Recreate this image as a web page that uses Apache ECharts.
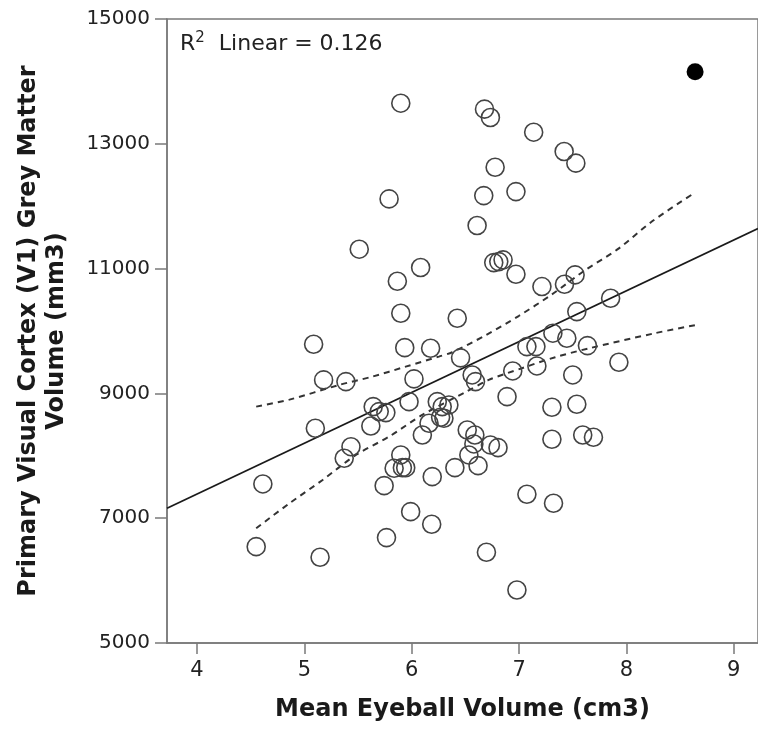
<!DOCTYPE html>
<html>
<head>
<meta charset="utf-8">
<script src="https://cdn.jsdelivr.net/npm/echarts@6/dist/echarts.min.js"></script>
<style>
  html, body { margin: 0; padding: 0; background: #fff; }
  #chart { width: 758px; height: 729px; }
</style>
</head>
<body>
<div id="chart"></div>
<script>
// hollow points: eyeball volume (cm3) vs V1 grey matter (mm3)
const eyeX = [5.898, 5.789, 5.511, 6.083, 5.866, 5.898, 6.424, 5.086, 5.935, 6.176,
  6.678, 6.733, 7.136, 7.420, 7.529, 6.777, 6.671, 6.971, 6.609, 6.764,
  6.811, 6.851, 6.971, 7.213, 7.423, 7.522, 7.853, 7.538, 7.315, 7.073,
  7.157, 7.445, 7.637, 6.455, 7.930, 5.179, 5.387, 6.021, 5.975, 5.641,
  5.697, 5.759, 6.238, 6.284, 6.346, 6.269, 6.161, 6.099, 5.619, 5.102,
  5.434, 5.371, 5.898, 5.836, 5.913, 5.944, 5.743, 6.191, 6.402, 4.613,
  5.990, 6.186, 5.765, 4.551, 5.146, 6.563, 6.594, 6.941, 7.166, 7.500,
  6.888, 7.306, 7.538, 6.300, 6.517, 6.588, 6.579, 6.733, 6.804, 6.532,
  6.618, 7.306, 7.593, 7.693, 7.073, 7.321, 6.696, 6.980];
const v1Y = [13651, 12117, 11311, 11017, 10798, 10285, 10205, 9788, 9733, 9724,
  13555, 13421, 13186, 12877, 12690, 12624, 12170, 12234, 11690, 11096,
  11112, 11140, 10910, 10712, 10750, 10899, 10525, 10311, 9965, 9750,
  9750, 9884, 9766, 9570, 9500, 9216, 9189, 9232, 8868, 8788,
  8708, 8692, 8868, 8788, 8815, 8618, 8522, 8334, 8478, 8441,
  8146, 7961, 8014, 7800, 7810, 7810, 7522, 7666, 7810, 7549,
  7105, 6903, 6689, 6544, 6374, 9296, 9189, 9360, 9440, 9296,
  8948, 8778, 8826, 8602, 8414, 8334, 8190, 8174, 8131, 8014,
  7842, 8265, 8334, 8297, 7384, 7239, 6454, 5850];

// highlighted case (filled)
const outX = [8.64];
const outY = [14153];

// linear fit, read at the plot edges
const fitX = [3.72, 9.226];
const fitY = [7159, 11641];

// 95% CI of the mean (dashed)
const ciUpX = [4.551, 4.861, 5.325, 5.634, 5.944, 6.253, 6.377, 6.687, 6.996, 7.305, 7.616, 7.926, 8.234, 8.605];
const ciUpY = [8788, 8900, 9136, 9269, 9429, 9590, 9660, 9930, 10240, 10585, 10975, 11320, 11750, 12181];
const ciLoX = [4.551, 4.861, 5.170, 5.480, 5.789, 6.098, 6.501, 6.718, 7.027, 7.337, 7.646, 8.266, 8.652];
const ciLoY = [6838, 7239, 7613, 8014, 8307, 8655, 9020, 9216, 9404, 9580, 9720, 9965, 10097];

const xTicks = [4, 5, 6, 7, 8, 9];

const zip = (xs, ys) => xs.map((x, i) => [x, ys[i]]);

const chart = echarts.init(document.getElementById('chart'));
const font = 'DejaVu Sans, sans-serif';
const axisGrey = '#7a7a7a';

const option = {
  animation: false,
  grid: {
    left: 167,
    top: 19,
    width: 593,
    height: 624,
    show: true,
    borderColor: axisGrey,
    borderWidth: 1.5
  },
  graphic: [{
    type: 'text',
    left: 180,
    top: 31,
    style: {
      text: '{a|R}{s|2}{a|  Linear = 0.126}',
      rich: {
        a: { fontSize: 22, fontFamily: font, fill: '#222', lineHeight: 26 },
        s: { fontSize: 15, fontFamily: font, fill: '#222', verticalAlign: 'top', lineHeight: 26 }
      }
    }
  }],
  xAxis: {
    type: 'value',
    min: 3.72,
    max: 9.226,
    name: 'Mean Eyeball Volume (cm3)',
    nameLocation: 'middle',
    nameGap: 55,
    nameTextStyle: { fontSize: 24, fontWeight: 'bold', fontFamily: font, color: '#1a1a1a' },
    axisLine: { lineStyle: { color: axisGrey, width: 1.5 } },
    axisTick: { customValues: xTicks, length: 11, lineStyle: { color: axisGrey, width: 1.5 } },
    axisLabel: { customValues: xTicks, fontSize: 21, fontFamily: font, color: '#222', margin: 17 },
    splitLine: { show: false }
  },
  yAxis: {
    type: 'value',
    min: 5000,
    max: 15000,
    interval: 2000,
    name: 'Primary Visual Cortex (V1) Grey Matter\nVolume (mm3)',
    nameLocation: 'middle',
    nameRotate: 90,
    nameGap: 96,
    nameTextStyle: { fontSize: 24, fontWeight: 'bold', fontFamily: font, color: '#1a1a1a', lineHeight: 28 },
    axisLine: { show: true, lineStyle: { color: axisGrey, width: 1.5 } },
    axisTick: { show: true, length: 12, lineStyle: { color: axisGrey, width: 1.5 } },
    axisLabel: { fontSize: 20, fontFamily: font, color: '#222', margin: 17, formatter: v => String(v) },
    splitLine: { show: false }
  },
  series: [
    {
      type: 'line',
      data: zip(fitX, fitY),
      symbol: 'none',
      lineStyle: { color: '#1a1a1a', width: 1.8 },
      z: 2
    },
    {
      type: 'line',
      data: zip(ciUpX, ciUpY),
      symbol: 'none',
      smooth: 0.3,
      lineStyle: { color: '#333', width: 2, type: [6, 5] },
      z: 2
    },
    {
      type: 'line',
      data: zip(ciLoX, ciLoY),
      symbol: 'none',
      smooth: 0.3,
      lineStyle: { color: '#333', width: 2, type: [6, 5] },
      z: 2
    },
    {
      type: 'scatter',
      data: zip(eyeX, v1Y),
      symbol: 'circle',
      symbolSize: 18,
      itemStyle: { color: 'rgba(0,0,0,0)', borderColor: '#444', borderWidth: 1.6, opacity: 1 },
      z: 3
    },
    {
      type: 'scatter',
      data: zip(outX, outY),
      symbol: 'circle',
      symbolSize: 17,
      itemStyle: { color: '#000', opacity: 1 },
      z: 4
    }
  ]
};

chart.setOption(option);
</script>
</body>
</html>
